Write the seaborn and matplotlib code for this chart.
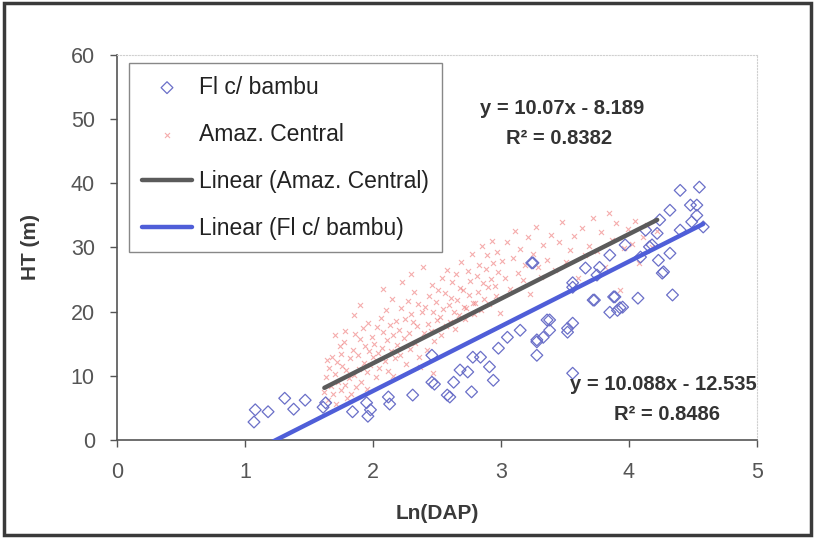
import numpy as np
import pandas as pd
import matplotlib
matplotlib.use("Agg")
import matplotlib.pyplot as plt
import seaborn as sns
from matplotlib.patches import Rectangle

# ---------------- data ----------------
bambu_x = [1.08, 1.18, 1.07, 1.31, 1.38, 1.63, 1.61, 1.84, 1.96, 1.98,
           1.95, 2.13, 2.12, 2.31, 2.46, 2.48, 2.58, 2.60, 2.63, 2.68,
           2.74, 2.78, 2.77, 2.46, 2.84, 2.91, 2.94, 2.98, 3.05, 3.15,
           3.28, 3.28, 3.33, 3.36, 3.38, 3.52, 3.56, 3.56, 3.25, 3.56,
           3.72, 3.88, 3.91, 3.93, 4.07, 4.34, 4.27, 4.09, 4.16, 4.23,
           4.40, 4.55, 4.53, 4.32, 4.53, 4.49, 4.58, 4.40, 4.22, 4.18,
           4.26, 3.95, 3.89, 3.85, 3.73, 3.52, 3.38, 3.28, 3.24, 3.56,
           3.75, 3.77, 4.32, 3.66, 3.85, 3.97, 4.13, 4.24, 4.48, 1.47]
bambu_y = [4.7, 4.4, 2.8, 6.5, 4.8, 5.8, 5.1, 4.4, 3.7, 4.7,
           5.8, 5.6, 6.7, 7.0, 9.0, 8.7, 7.0, 6.7, 9.0, 10.9,
           10.6, 12.9, 7.5, 13.2, 12.9, 11.4, 9.3, 14.3, 16.0, 17.1,
           13.2, 15.6, 16.0, 18.7, 17.1, 17.4, 18.2, 10.4, 27.6, 23.8,
           21.8, 22.3, 20.2, 20.6, 22.1, 22.6, 26.2, 28.5, 30.1, 28.0,
           38.9, 39.4, 36.6, 35.8, 35.0, 34.0, 33.2, 32.7, 32.2, 30.4,
           26.0, 20.7, 22.3, 19.9, 21.8, 16.8, 18.7, 15.3, 27.6, 24.5,
           25.7, 26.9, 29.1, 26.8, 28.8, 30.4, 32.7, 34.3, 36.6, 6.2]

amaz_x = [1.62, 1.63, 1.65, 1.66, 1.67, 1.68, 1.69, 1.70, 1.71, 1.72,
          1.73, 1.74, 1.75, 1.76, 1.77, 1.78, 1.79, 1.80, 1.64, 1.70,
          1.75, 1.78,
          1.81, 1.82, 1.83, 1.84, 1.85, 1.86, 1.87, 1.88, 1.89, 1.90,
          1.91, 1.92, 1.93, 1.94, 1.95, 1.96, 1.97, 1.98, 1.99, 1.85,
          1.90, 1.95,
          2.00, 2.01, 2.02, 2.03, 2.04, 2.05, 2.06, 2.07, 2.08, 2.09,
          2.10, 2.11, 2.12, 2.13, 2.14, 2.15, 2.16, 2.17, 2.18, 2.19,
          2.08, 2.16,
          2.20, 2.21, 2.22, 2.23, 2.24, 2.25, 2.26, 2.27, 2.28, 2.29,
          2.30, 2.31, 2.32, 2.33, 2.34, 2.35, 2.36, 2.37, 2.38, 2.39,
          2.30,
          2.40, 2.41, 2.42, 2.43, 2.44, 2.45, 2.46, 2.47, 2.48, 2.49,
          2.50, 2.51, 2.52, 2.53, 2.54, 2.55, 2.56, 2.57, 2.58, 2.59,
          2.47,
          2.60, 2.61, 2.62, 2.63, 2.64, 2.65, 2.66, 2.67, 2.68, 2.69,
          2.70, 2.71, 2.72, 2.73, 2.74, 2.75, 2.76, 2.77, 2.78, 2.79,
          2.80,
          2.81, 2.82, 2.83, 2.84, 2.85, 2.86, 2.87, 2.88, 2.89, 2.90,
          2.91, 2.92, 2.93, 2.94, 2.95, 2.96, 2.97, 2.98, 2.99,
          3.01, 3.03, 3.05, 3.07, 3.09, 3.11, 3.13, 3.15, 3.17, 3.19,
          3.21, 3.23, 3.25, 3.27, 3.29, 3.31,
          3.33, 3.36, 3.39, 3.42, 3.45, 3.48, 3.51, 3.54, 3.57, 3.60,
          3.63, 3.66, 3.69,
          3.72, 3.75, 3.78, 3.81, 3.84, 3.87, 3.90, 3.93, 3.96, 3.99,
          4.02, 4.05, 4.08, 4.11, 4.14, 4.18, 4.22]
amaz_y = [7.5, 9.8, 6.2, 11.2, 8.4, 13.0, 7.1, 10.3, 5.6, 12.1,
          9.0, 14.6, 7.8, 11.5, 15.2, 8.6, 10.9, 6.6, 12.4, 16.3,
          13.4, 17.0,
          9.6, 12.8, 7.2, 14.1, 10.2, 16.5, 8.3, 13.3, 11.0, 15.8,
          9.1, 17.4, 12.0, 14.7, 10.6, 18.3, 13.8, 11.7, 16.1, 19.5,
          21.0, 7.9,
          12.9, 15.0, 9.8, 17.6, 13.5, 11.2, 19.0, 14.4, 16.8, 12.3,
          20.2, 15.6, 10.7, 17.9, 13.9, 22.0, 16.4, 12.8, 18.6, 14.8,
          23.5, 9.9,
          17.2, 13.3, 20.5, 24.6, 15.9, 18.8, 11.9, 21.7, 16.6, 14.2,
          19.6, 18.4, 23.0, 15.1, 17.7, 21.2, 13.0, 11.4, 19.9, 27.0,
          25.8,
          16.7, 20.8, 14.0, 18.1, 22.4, 17.0, 24.1, 19.9, 15.5, 21.5,
          18.7, 23.3, 19.2, 16.3, 25.2, 20.4, 22.9, 17.8, 26.5, 21.1,
          10.4,
          18.4, 22.2, 24.6, 20.0, 17.3, 25.9, 21.8, 19.4, 23.7, 27.8,
          23.4, 20.7, 18.9, 20.6, 26.3, 22.6, 24.8, 29.0, 21.4, 19.6,
          21.3,
          25.5, 23.1, 27.3, 20.3, 30.2, 24.4, 22.0, 26.7, 28.9, 23.8,
          21.2, 25.1, 31.0, 27.6, 24.0, 22.5, 29.3, 26.2, 19.8,
          27.9, 25.3, 30.8, 23.6, 28.4, 32.5, 26.0, 29.7, 24.9, 27.2,
          31.6, 22.8, 29.0, 33.2, 26.9, 25.4,
          30.4, 28.1, 32.0, 26.5, 30.9, 34.0, 27.7, 29.6, 31.8, 25.2,
          33.0, 28.8, 30.2,
          34.6, 29.5, 32.4, 27.0, 35.3, 31.1, 33.8, 23.4, 29.9, 32.9,
          30.5, 34.2, 27.6, 31.7, 33.5, 30.0, 32.6]

amaz_slope, amaz_intercept = 10.07, -8.189
bambu_slope, bambu_intercept = 10.088, -12.535
amaz_r2 = "0.8382"
bambu_r2 = "0.8486"

x_ticks = [0, 1, 2, 3, 4, 5]
y_ticks = [0, 10, 20, 30, 40, 50, 60]

label_bambu = "Fl c/ bambu"
label_amaz = "Amaz. Central"
label_lin_amaz = "Linear (Amaz. Central)"
label_lin_bambu = "Linear (Fl c/ bambu)"

# ---------------- styling ----------------
sns.set_theme(style="white")
plt.rcParams['font.family'] = ['Liberation Sans', 'DejaVu Sans']

fig = plt.figure(figsize=(8.15, 5.38), dpi=100)
ax = fig.add_axes([0.1436, 0.1822, 0.7852, 0.7156])

df_b = pd.DataFrame({"x": bambu_x, "y": bambu_y})
df_a = pd.DataFrame({"x": amaz_x, "y": amaz_y})

sns.scatterplot(data=df_b, x="x", y="y", marker="D", s=36,
                facecolors="none", edgecolor="#6a6fc8", linewidth=0.9,
                label=label_bambu, ax=ax, zorder=3)
sns.scatterplot(data=df_a, x="x", y="y", marker="x", s=13,
                color="#f08080", linewidth=0.8, alpha=0.65,
                label=label_amaz, ax=ax, zorder=2)

# trendlines from the equations, spanning each series' x range
ax_min, ax_max = min(amaz_x), max(amaz_x)
bx_min, bx_max = min(bambu_x), max(bambu_x)
df_la = pd.DataFrame({"x": [ax_min, ax_max],
                      "y": [amaz_slope * ax_min + amaz_intercept,
                            amaz_slope * ax_max + amaz_intercept]})
df_lb = pd.DataFrame({"x": [bx_min, bx_max],
                      "y": [bambu_slope * bx_min + bambu_intercept,
                            bambu_slope * bx_max + bambu_intercept]})
sns.lineplot(data=df_la, x="x", y="y", color="#5b5b5b", linewidth=3.2,
             label=label_lin_amaz, ax=ax, zorder=4)
sns.lineplot(data=df_lb, x="x", y="y", color="#4f5ed8", linewidth=3.2,
             label=label_lin_bambu, ax=ax, zorder=4)

ax.set_xlim(0, 5)
ax.set_ylim(0, 60)
ax.set_xticks(x_ticks)
ax.set_yticks(y_ticks)
ax.set_xticklabels([str(t) for t in x_ticks])
ax.set_yticklabels([str(t) for t in y_ticks])
ax.tick_params(axis="both", which="major", labelsize=15.5, labelcolor="#555555",
               direction="out", length=5, width=1, color="#555555", pad=11,
               bottom=True, left=True)

ax.set_xlabel("Ln(DAP)", fontsize=15, fontweight="bold", color="#3a3a3a", labelpad=15)
ax.set_ylabel("HT (m)", fontsize=15, fontweight="bold", color="#3a3a3a", labelpad=22)

for side in ["left", "bottom"]:
    ax.spines[side].set_color("#555555")
    ax.spines[side].set_linewidth(1.2)
for side in ["top", "right"]:
    ax.spines[side].set_color("#d0d0d0")
    ax.spines[side].set_linewidth(0.8)
    ax.spines[side].set_linestyle(":")

handles, labels = ax.get_legend_handles_labels()
order = [label_bambu, label_amaz, label_lin_amaz, label_lin_bambu]
hmap = dict(zip(labels, handles))
leg = ax.legend([hmap[l] for l in order], order, loc="upper left",
                bbox_to_anchor=(0.019, 0.979), borderaxespad=0,
                fontsize=16.5, frameon=True, fancybox=False, framealpha=1,
                edgecolor="#888888", labelspacing=1.05, handlelength=2.2,
                handletextpad=0.3, borderpad=0.55, labelcolor="#222222")
leg.get_frame().set_linewidth(1.0)

# equation annotations
ax.text(3.48, 51.7, f"y = {amaz_slope:.2f}x - {abs(amaz_intercept):.3f}",
        ha="center", va="center", fontsize=14.5, fontweight="bold", color="#333333")
ax.text(3.45, 47.0, f"R² = {amaz_r2}", ha="center", va="center",
        fontsize=14.5, fontweight="bold", color="#333333")
ax.text(4.27, 8.6, f"y = {bambu_slope:.3f}x - {abs(bambu_intercept):.3f}",
        ha="center", va="center", fontsize=14.5, fontweight="bold", color="#333333")
ax.text(4.30, 3.9, f"R² = {bambu_r2}", ha="center", va="center",
        fontsize=14.5, fontweight="bold", color="#333333")

# outer chart frame
fig.patches.append(Rectangle((0.005, 0.006), 0.990, 0.988, transform=fig.transFigure,
                             fill=False, edgecolor="#3a3a3a", linewidth=2.5))

fig.savefig("out.png", dpi=100)
